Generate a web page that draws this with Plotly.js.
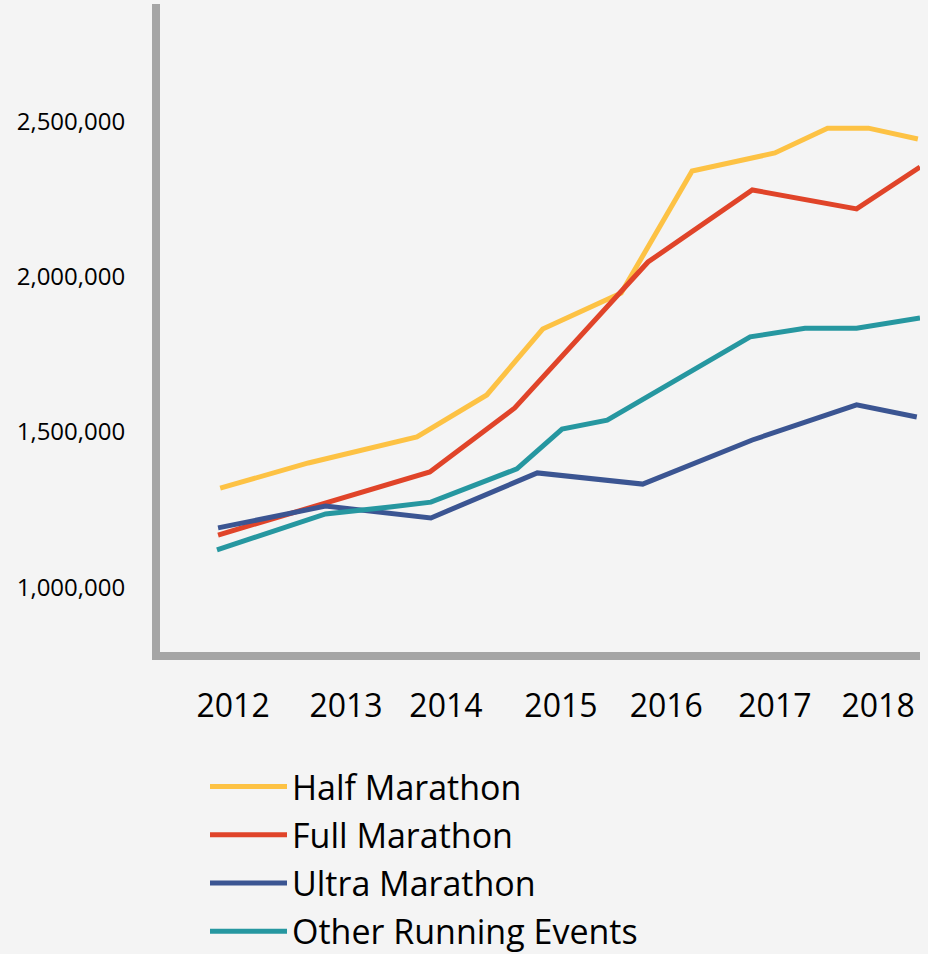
<!DOCTYPE html>
<html>
<head>
<meta charset="utf-8">
<script src="https://cdn.plot.ly/plotly-3.0.1.min.js"></script>
<style>
  html, body { margin: 0; padding: 0; background: #f4f4f4; }
  #chart { width: 928px; height: 954px; }
</style>
</head>
<body>
<div id="chart"></div>
<script>
// Series names
const seriesNames = ['Half Marathon', 'Full Marathon', 'Ultra Marathon', 'Other Running Events'];
const seriesColors = ['#fdc244', '#e04429', '#3b5592', '#2697a0'];

// Values (x in fractional years, y in participants)
const halfX = [2011.88, 2012.70, 2013.71, 2014.36, 2014.88, 2015.61, 2016.27, 2017.04, 2017.53, 2017.91, 2018.37];
const halfY = [1319000, 1400000, 1484000, 1619000, 1831000, 1947000, 2340000, 2398000, 2478000, 2478000, 2443000];

const fullX = [2011.86, 2013.83, 2014.62, 2015.86, 2016.83, 2017.80, 2018.39];
const fullY = [1168000, 1371000, 1577000, 2047000, 2279000, 2218000, 2353000];

const ultraX = [2011.86, 2012.86, 2013.84, 2014.83, 2015.81, 2016.83, 2017.80, 2018.36];
const ultraY = [1191000, 1261000, 1223000, 1368000, 1332000, 1474000, 1587000, 1548000];

const otherX = [2011.85, 2012.86, 2013.46, 2013.84, 2014.64, 2015.06, 2015.48, 2016.81, 2017.32, 2017.80, 2018.39];
const otherY = [1120000, 1236000, 1258000, 1274000, 1381000, 1509000, 1538000, 1806000, 1834000, 1834000, 1867000];

// Tick labels (label positions, slightly uneven)
const yearTicks = [2012, 2013.05, 2013.98, 2015.05, 2016.03, 2017.04, 2018.0];
const yearLabels = ['2012', '2013', '2014', '2015', '2016', '2017', '2018'];
const yTicks = [1000000, 1500000, 2000000, 2500000];
const yLabels = ['1,000,000', '1,500,000', '2,000,000', '2,500,000'];

const xs = [halfX, fullX, ultraX, otherX];
const ys = [halfY, fullY, ultraY, otherY];

const traces = seriesNames.map((name, i) => ({
  type: 'scatter',
  mode: 'lines',
  name: name,
  legendgroup: 'g' + i,
  x: xs[i],
  y: ys[i],
  line: { color: seriesColors[i], width: 5 },
  hoverinfo: 'y+name'
}));

const fontFam = '"Open Sans", "Noto Sans", sans-serif';

const layout = {
  width: 928,
  height: 954,
  paper_bgcolor: '#f4f4f4',
  plot_bgcolor: '#f4f4f4',
  margin: { l: 160, r: 8, t: 4, b: 302, autoexpand: false },
  showlegend: true,
  legend: {
    xref: 'container', yref: 'container',
    x: 205 / 928, y: 1 - 758 / 954,
    xanchor: 'left', yanchor: 'top',
    orientation: 'v',
    itemwidth: 77,
    tracegroupgap: 1,
    bgcolor: 'rgba(0,0,0,0)',
    font: { family: fontFam, size: 34, color: '#000000' }
  },
  xaxis: {
    automargin: false,
    range: [2011.32, 2018.39],
    tickmode: 'array',
    tickvals: yearTicks,
    ticktext: yearLabels,
    tickangle: 0,
    showgrid: false,
    zeroline: false,
    showline: true,
    linecolor: '#a5a5a5',
    linewidth: 8,
    ticks: 'outside',
    ticklen: 19,
    tickcolor: 'rgba(0,0,0,0)',
    tickfont: { family: fontFam, size: 32, color: '#000000' },
    fixedrange: true
  },
  yaxis: {
    automargin: false,
    range: [791400, 2877700],
    tickmode: 'array',
    tickvals: yTicks,
    ticktext: yLabels,
    showgrid: false,
    zeroline: false,
    showline: true,
    linecolor: '#a5a5a5',
    linewidth: 8,
    ticks: 'outside',
    ticklen: 22,
    tickcolor: 'rgba(0,0,0,0)',
    tickfont: { family: fontFam, size: 24, color: '#000000' },
    fixedrange: true
  }
};

Plotly.newPlot('chart', traces, layout, { displayModeBar: false, responsive: false });
</script>
</body>
</html>
